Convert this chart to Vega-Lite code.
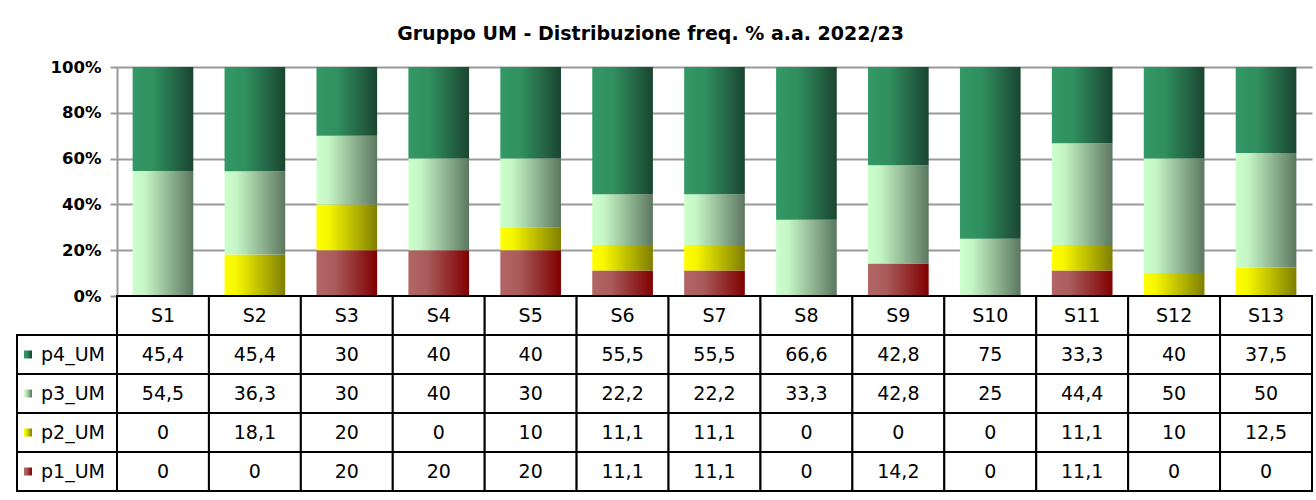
{
  "$schema": "https://vega.github.io/schema/vega-lite/v6.json",
  "padding": {"left": 16, "top": 25, "right": 3, "bottom": 8},
  "background": "white",
  "title": {"text": "Gruppo UM - Distribuzione freq. % a.a. 2022/23", "fontSize": 19, "fontWeight": "bold", "font": "DejaVu Sans", "anchor": "middle", "offset": 15, "dx": -14, "color": "black"},
  "config": {
    "view": {"stroke": null},
    "font": "DejaVu Sans",
    "locale": {"number": {"decimal": ",", "thousands": ".", "grouping": [3], "currency": ["", " €"]}}
  },
  "datasets": {
    "d": [
      {"S": "S1", "serie": "p4_UM", "v": 45.4}, {"S": "S1", "serie": "p3_UM", "v": 54.5}, {"S": "S1", "serie": "p2_UM", "v": 0}, {"S": "S1", "serie": "p1_UM", "v": 0},
      {"S": "S2", "serie": "p4_UM", "v": 45.4}, {"S": "S2", "serie": "p3_UM", "v": 36.3}, {"S": "S2", "serie": "p2_UM", "v": 18.1}, {"S": "S2", "serie": "p1_UM", "v": 0},
      {"S": "S3", "serie": "p4_UM", "v": 30}, {"S": "S3", "serie": "p3_UM", "v": 30}, {"S": "S3", "serie": "p2_UM", "v": 20}, {"S": "S3", "serie": "p1_UM", "v": 20},
      {"S": "S4", "serie": "p4_UM", "v": 40}, {"S": "S4", "serie": "p3_UM", "v": 40}, {"S": "S4", "serie": "p2_UM", "v": 0}, {"S": "S4", "serie": "p1_UM", "v": 20},
      {"S": "S5", "serie": "p4_UM", "v": 40}, {"S": "S5", "serie": "p3_UM", "v": 30}, {"S": "S5", "serie": "p2_UM", "v": 10}, {"S": "S5", "serie": "p1_UM", "v": 20},
      {"S": "S6", "serie": "p4_UM", "v": 55.5}, {"S": "S6", "serie": "p3_UM", "v": 22.2}, {"S": "S6", "serie": "p2_UM", "v": 11.1}, {"S": "S6", "serie": "p1_UM", "v": 11.1},
      {"S": "S7", "serie": "p4_UM", "v": 55.5}, {"S": "S7", "serie": "p3_UM", "v": 22.2}, {"S": "S7", "serie": "p2_UM", "v": 11.1}, {"S": "S7", "serie": "p1_UM", "v": 11.1},
      {"S": "S8", "serie": "p4_UM", "v": 66.6}, {"S": "S8", "serie": "p3_UM", "v": 33.3}, {"S": "S8", "serie": "p2_UM", "v": 0}, {"S": "S8", "serie": "p1_UM", "v": 0},
      {"S": "S9", "serie": "p4_UM", "v": 42.8}, {"S": "S9", "serie": "p3_UM", "v": 42.8}, {"S": "S9", "serie": "p2_UM", "v": 0}, {"S": "S9", "serie": "p1_UM", "v": 14.2},
      {"S": "S10", "serie": "p4_UM", "v": 75}, {"S": "S10", "serie": "p3_UM", "v": 25}, {"S": "S10", "serie": "p2_UM", "v": 0}, {"S": "S10", "serie": "p1_UM", "v": 0},
      {"S": "S11", "serie": "p4_UM", "v": 33.3}, {"S": "S11", "serie": "p3_UM", "v": 44.4}, {"S": "S11", "serie": "p2_UM", "v": 11.1}, {"S": "S11", "serie": "p1_UM", "v": 11.1},
      {"S": "S12", "serie": "p4_UM", "v": 40}, {"S": "S12", "serie": "p3_UM", "v": 50}, {"S": "S12", "serie": "p2_UM", "v": 10}, {"S": "S12", "serie": "p1_UM", "v": 0},
      {"S": "S13", "serie": "p4_UM", "v": 37.5}, {"S": "S13", "serie": "p3_UM", "v": 50}, {"S": "S13", "serie": "p2_UM", "v": 12.5}, {"S": "S13", "serie": "p1_UM", "v": 0}
    ]
  },
  "columns": 2,
  "spacing": 0,
  "bounds": "flush",
  "concat": [
    {
      "width": 100,
      "height": 229,
      "data": {"values": [{}]},
      "mark": {"type": "text"},
      "encoding": {"text": {"value": ""}}
    },
    {
      "width": 1195,
      "height": 229,
      "data": {"name": "d"},
      "transform": [
        {"stack": "v", "groupby": ["S"], "sort": [{"field": "serie", "order": "ascending"}], "offset": "normalize", "as": ["y0", "y1"]}
      ],
      "encoding": {
        "x": {"field": "S", "type": "nominal", "axis": null,
              "scale": {"domain": ["S1","S2","S3","S4","S5","S6","S7","S8","S9","S10","S11","S12","S13"], "paddingInner": 0.34, "paddingOuter": 0.17}},
        "y": {"field": "y0", "type": "quantitative", "scale": {"domain": [0, 1], "nice": false},
              "axis": {"title": null, "format": "%", "values": [0, 0.2, 0.4, 0.6, 0.8, 1], "labelFontWeight": "bold", "labelFontSize": 16.5, "labelColor": "black", "labelPadding": 9, "tickSize": 7, "tickColor": "#9a9a9a", "tickWidth": 2, "domainColor": "#9a9a9a", "domainWidth": 2, "gridColor": "#9a9a9a", "gridWidth": 2, "grid": true}},
        "y2": {"field": "y1"}
      },
      "layer": [
        {
          "transform": [{"filter": "datum.serie === 'p1_UM'"}],
          "mark": {"type": "bar", "color": {"gradient": "linear", "x1": 0, "y1": 0, "x2": 1, "y2": 0, "stops": [{"offset": 0, "color": "#b36666"}, {"offset": 0.3, "color": "#a95c5c"}, {"offset": 1, "color": "#800000"}]}}
        },
        {
          "transform": [{"filter": "datum.serie === 'p2_UM'"}],
          "mark": {"type": "bar", "color": {"gradient": "linear", "x1": 0, "y1": 0, "x2": 1, "y2": 0, "stops": [{"offset": 0, "color": "#ffff00"}, {"offset": 0.2, "color": "#f6f600"}, {"offset": 1, "color": "#7f7f00"}]}}
        },
        {
          "transform": [{"filter": "datum.serie === 'p3_UM'"}],
          "mark": {"type": "bar", "color": {"gradient": "linear", "x1": 0, "y1": 0, "x2": 1, "y2": 0, "stops": [{"offset": 0, "color": "#ccffcc"}, {"offset": 0.2, "color": "#c5f5c5"}, {"offset": 1, "color": "#5c7760"}]}}
        },
        {
          "transform": [{"filter": "datum.serie === 'p4_UM'"}],
          "mark": {"type": "bar", "color": {"gradient": "linear", "x1": 0, "y1": 0, "x2": 1, "y2": 0, "stops": [{"offset": 0, "color": "#339966"}, {"offset": 0.35, "color": "#308f5f"}, {"offset": 1, "color": "#1a4530"}]}}
        }
      ]
    },
    {
      "width": 100,
      "height": 195,
      "data": {"name": "d"},
      "transform": [{"filter": "datum.S === 'S1'"}],
      "encoding": {
        "y": {"field": "serie", "type": "nominal", "axis": null,
              "scale": {"domain": ["hdr", "p4_UM", "p3_UM", "p2_UM", "p1_UM"], "paddingInner": 0, "paddingOuter": 0}}
      },
      "layer": [
        {
          "mark": {"type": "rect", "fill": "white", "stroke": "black", "strokeWidth": 2},
          "encoding": {
            "x": {"datum": 0, "type": "quantitative", "scale": {"domain": [0, 100], "nice": false, "zero": false}, "axis": null},
            "x2": {"datum": 100}
          }
        },
        {
          "transform": [{"filter": "datum.serie === 'p4_UM'"}],
          "mark": {"type": "square", "size": 64, "opacity": 1, "color": {"gradient": "linear", "x1": 0, "y1": 0, "x2": 1, "y2": 0, "stops": [{"offset": 0, "color": "#339966"}, {"offset": 0.35, "color": "#308f5f"}, {"offset": 1, "color": "#1a4530"}]}},
          "encoding": {"x": {"datum": 11, "type": "quantitative"}}
        },
        {
          "transform": [{"filter": "datum.serie === 'p3_UM'"}],
          "mark": {"type": "square", "size": 64, "opacity": 1, "color": {"gradient": "linear", "x1": 0, "y1": 0, "x2": 1, "y2": 0, "stops": [{"offset": 0, "color": "#ccffcc"}, {"offset": 0.2, "color": "#c5f5c5"}, {"offset": 1, "color": "#5c7760"}]}},
          "encoding": {"x": {"datum": 11, "type": "quantitative"}}
        },
        {
          "transform": [{"filter": "datum.serie === 'p2_UM'"}],
          "mark": {"type": "square", "size": 64, "opacity": 1, "color": {"gradient": "linear", "x1": 0, "y1": 0, "x2": 1, "y2": 0, "stops": [{"offset": 0, "color": "#ffff00"}, {"offset": 0.2, "color": "#f6f600"}, {"offset": 1, "color": "#7f7f00"}]}},
          "encoding": {"x": {"datum": 11, "type": "quantitative"}}
        },
        {
          "transform": [{"filter": "datum.serie === 'p1_UM'"}],
          "mark": {"type": "square", "size": 64, "opacity": 1, "color": {"gradient": "linear", "x1": 0, "y1": 0, "x2": 1, "y2": 0, "stops": [{"offset": 0, "color": "#b36666"}, {"offset": 0.3, "color": "#a95c5c"}, {"offset": 1, "color": "#800000"}]}},
          "encoding": {"x": {"datum": 11, "type": "quantitative"}}
        },
        {
          "mark": {"type": "text", "align": "left", "baseline": "middle", "fontSize": 19, "color": "black"},
          "encoding": {
            "x": {"datum": 24, "type": "quantitative"},
            "text": {"field": "serie"}
          }
        }
      ]
    },
    {
      "width": 1195,
      "height": 195,
      "data": {"name": "d"},
      "encoding": {
        "x": {"field": "S", "type": "nominal", "axis": null,
              "scale": {"domain": ["S1","S2","S3","S4","S5","S6","S7","S8","S9","S10","S11","S12","S13"], "paddingInner": 0, "paddingOuter": 0}}
      },
      "layer": [
        {
          "mark": {"type": "rect", "fill": "white", "stroke": "black", "strokeWidth": 2},
          "encoding": {
            "y": {"field": "serie", "type": "nominal", "axis": null,
                  "scale": {"domain": ["hdr", "p4_UM", "p3_UM", "p2_UM", "p1_UM"], "paddingInner": 0, "paddingOuter": 0}}
          }
        },
        {
          "transform": [{"filter": "datum.serie === 'p4_UM'"}],
          "mark": {"type": "rect", "fill": "white", "stroke": "black", "strokeWidth": 2},
          "encoding": {"y": {"datum": "hdr", "type": "nominal"}}
        },
        {
          "mark": {"type": "text", "align": "center", "baseline": "middle", "fontSize": 19, "color": "black"},
          "encoding": {
            "y": {"field": "serie", "type": "nominal"},
            "text": {"field": "v", "type": "quantitative", "format": ".1~f"}
          }
        },
        {
          "transform": [{"filter": "datum.serie === 'p4_UM'"}],
          "mark": {"type": "text", "align": "center", "baseline": "middle", "fontSize": 19, "color": "black"},
          "encoding": {
            "y": {"datum": "hdr", "type": "nominal"},
            "text": {"field": "S"}
          }
        }
      ]
    }
  ]
}
